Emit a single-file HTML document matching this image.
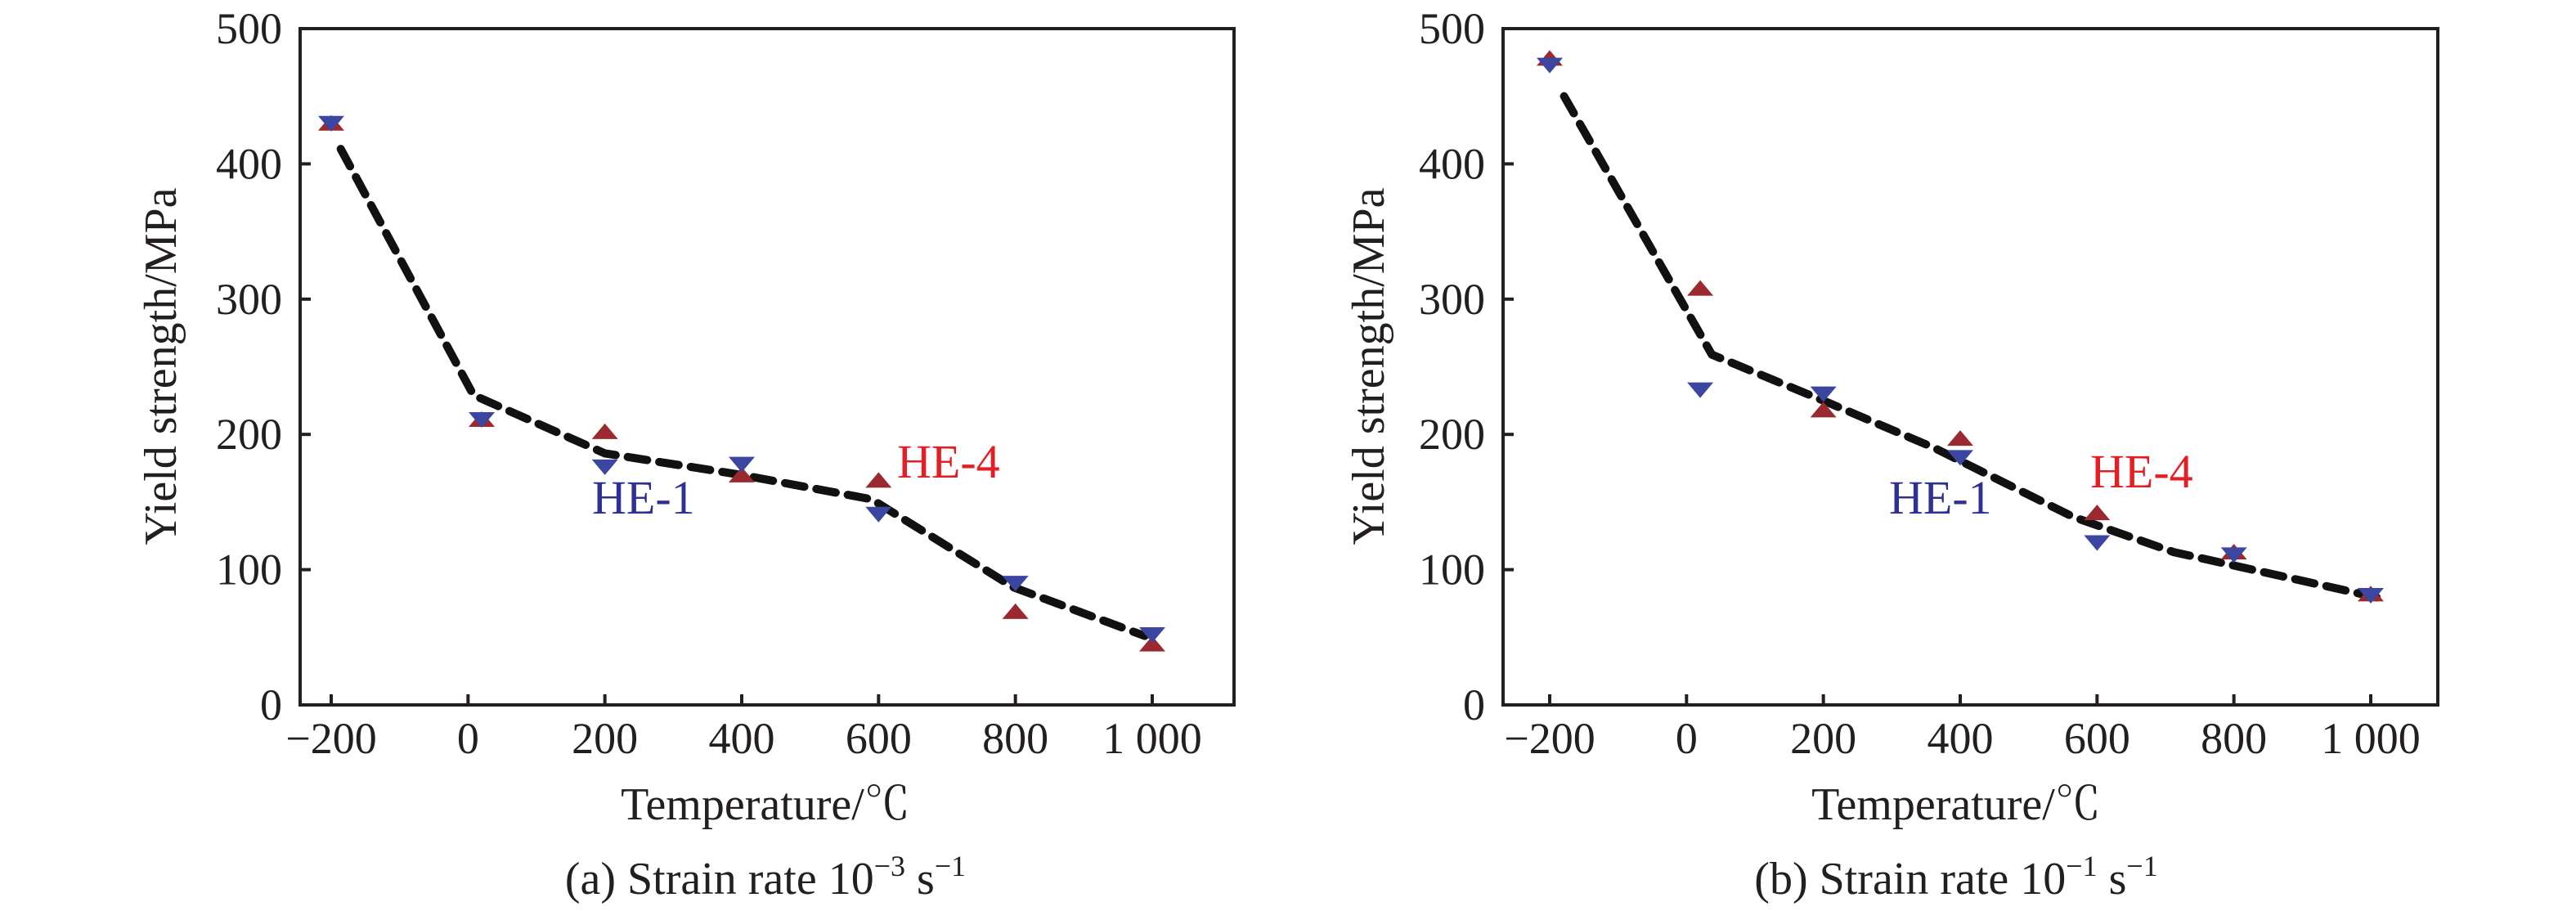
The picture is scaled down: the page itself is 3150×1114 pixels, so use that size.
<!DOCTYPE html>
<html><head><meta charset="utf-8">
<style>
html,body{margin:0;padding:0;background:#fff;}
svg{display:block;}
text{font-family:"Liberation Serif","Noto Serif CJK SC",serif;fill:#231f20;}
</style></head>
<body>
<svg id="fig" width="3150" height="1114" viewBox="0 0 3150 1114" xmlns="http://www.w3.org/2000/svg"></svg>
<script>
// ---- shared axis ticks ----
const xTicks = [-200, 0, 200, 400, 600, 800, 1000];
const xTickLabels = ["\u2212200", "0", "200", "400", "600", "800", "1 000"];
const yTicks = [0, 100, 200, 300, 400, 500];
const yTickLabels = ["0", "100", "200", "300", "400", "500"];

// ---- panel (a) data ----
const tempsA = [-200, 20, 200, 400, 600, 800, 1000];
const he4A = [430, 211, 202, 170, 166, 69, 45];
const he1A = [430, 211, 176, 178, 141, 90, 52];
const fitXA = [-186, 8, 200, 400, 590, 797, 989];
const fitYA = [411, 229, 186, 170, 152, 87, 51];

// ---- panel (b) data ----
const tempsB = [-200, 20, 200, 400, 600, 800, 1000];
const he4B = [478, 308, 218, 197, 142, 113, 82];
const he1B = [473, 233, 230, 183, 120, 111, 81];
const fitXB = [-179, 37, 200, 362, 565, 712, 1013];
const fitYB = [450, 259, 225, 190, 139, 113, 79];

const NS = "http://www.w3.org/2000/svg";
const svg = document.getElementById('fig');
function mk(tag, attrs, parent){
  const e = document.createElementNS(NS, tag);
  for (const k in attrs) e.setAttribute(k, attrs[k]);
  (parent||svg).appendChild(e);
  return e;
}

function panel(cfg){
  const g = mk('g', {});
  
  
  const L = cfg.left, R = cfg.right, T = 35, B = 862;
  const x0 = cfg.xm200, xs = 1004/1200;
  const sx = v => x0 + (v + 200) * xs;
  const sy = v => B - v * (B - T) / 500;

  const frame = mk('rect', {x:L, y:T, width:R-L, height:B-T, fill:'none', stroke:'#231f20', 'stroke-width':4}, g);
  
  

  xTicks.forEach((t, i) => {
    const tk = mk('line', {x1:sx(t), x2:sx(t), y1:B, y2:B-13, stroke:'#231f20', 'stroke-width':4}, g);
    
    
    const lb = mk('text', {x:sx(t), y:921, 'font-size':54, 'text-anchor':'middle'}, g);
    lb.textContent = xTickLabels[i];
    
    
  });
  yTicks.forEach((t, i) => {
    const tk = mk('line', {x1:L, x2:L+13, y1:sy(t), y2:sy(t), stroke:'#231f20', 'stroke-width':4}, g);
    
    
    const lb = mk('text', {x:L-22, y:sy(t)+18, 'font-size':54, 'text-anchor':'end'}, g);
    lb.textContent = yTickLabels[i];
    
    
  });

  // dashed fit line
  let d = '';
  cfg.fx.forEach((v, i) => { d += (i ? 'L' : 'M') + sx(v).toFixed(1) + ',' + sy(cfg.fy[i]).toFixed(1); });
  const fit = mk('path', {d:d, fill:'none', stroke:'#111', 'stroke-width':10, 'stroke-dasharray':'24 15', 'stroke-linecap':'round', 'stroke-linejoin':'round'}, g);
  
  

  // markers
  cfg.temps.forEach((t, i) => {
    const cx = sx(t), cy4 = sy(cfg.he4[i]);
    const up = mk('polygon', {points:`${cx-16},${cy4+9} ${cx+16},${cy4+9} ${cx},${cy4-10}`, fill:'#9b2a30'}, g);
    
    
  });
  cfg.temps.forEach((t, i) => {
    const cx = sx(t), cy1 = sy(cfg.he1[i]);
    const dn = mk('polygon', {points:`${cx-16},${cy1-9} ${cx+16},${cy1-9} ${cx},${cy1+10}`, fill:'#3a46a0'}, g);
    
    
  });

  const l1 = mk('text', {x:cfg.he1x, y:cfg.he1y, 'font-size':58, style:'fill:#2e3192'}, g);
  l1.textContent = 'HE-1';
  
  
  const l4 = mk('text', {x:cfg.he4x, y:cfg.he4y, 'font-size':58, style:'fill:#e31e24'}, g);
  l4.textContent = 'HE-4';
  
  

  const yt = mk('text', {x:0, y:0, 'font-size':56, 'text-anchor':'middle', transform:`translate(${cfg.ytx},448) rotate(-90)`}, g);
  yt.textContent = 'Yield strength/MPa';
  
  

  const xt = mk('text', {x:cfg.cx, y:1002, 'font-size':56, 'text-anchor':'middle'}, g);
  xt.textContent = 'Temperature/\u2103';
  
  

  const cap = mk('text', {x:cfg.cx, y:1093, 'font-size':56, 'text-anchor':'middle'}, g);
  
  
  cap.appendChild(document.createTextNode(cfg.label + ' Strain rate 10'));
  const s1 = mk('tspan', {dy:-22, 'font-size':36}, cap); s1.textContent = cfg.exp;
  const s2 = mk('tspan', {dy:22}, cap); s2.textContent = ' s';
  const s3 = mk('tspan', {dy:-22, 'font-size':36}, cap); s3.textContent = '\u22121';
}

panel({name:'panel-a', left:367, right:1509, xm200:405, temps:tempsA, he4:he4A, he1:he1A, fx:fitXA, fy:fitYA,
  he1x:724, he1y:628, he4x:1097, he4y:584, ytx:215, cx:936, label:'(a)', exp:'\u22123'});
panel({name:'panel-b', left:1838, right:2981, xm200:1895, temps:tempsB, he4:he4B, he1:he1B, fx:fitXB, fy:fitYB,
  he1x:2310, he1y:628, he4x:2556, he4y:596, ytx:1692, cx:2392, label:'(b)', exp:'\u22121'});
</script>
</body></html>
